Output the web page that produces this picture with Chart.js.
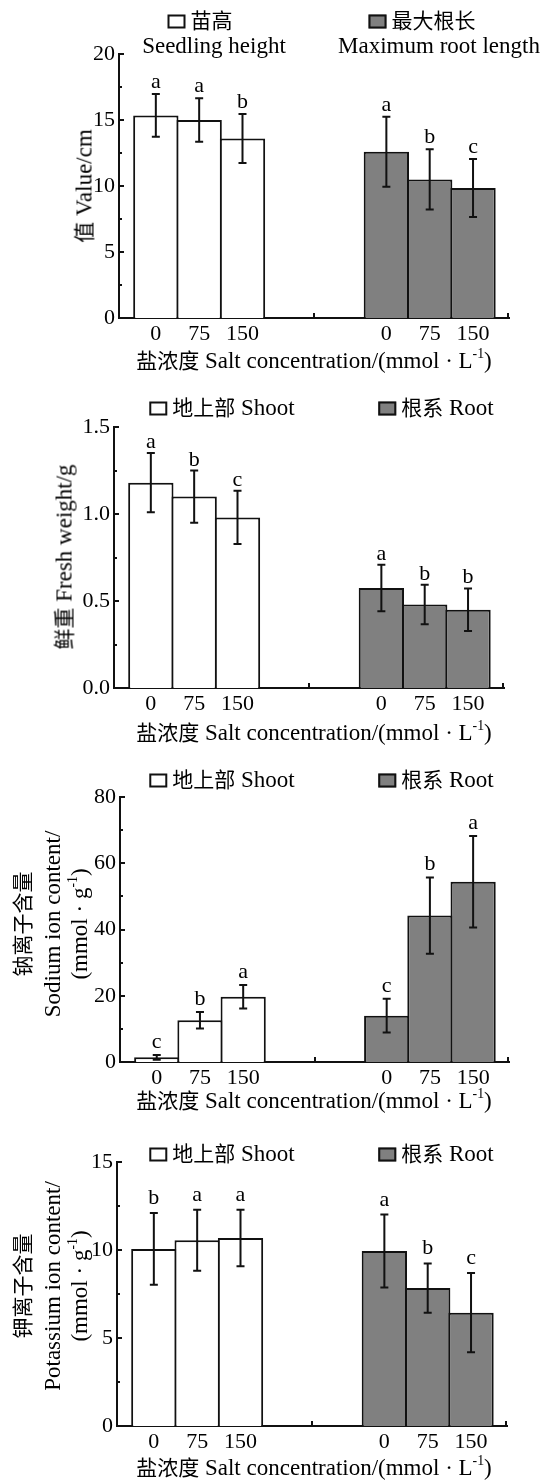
<!DOCTYPE html>
<html lang="zh">
<head>
<meta charset="utf-8">
<title>盐胁迫对幼苗生长及离子含量的影响</title>
<script src="https://cdn.jsdelivr.net/npm/chart.js@4.4.1/dist/chart.umd.min.js"></script>
<style>
  body { margin: 0; background: #fff; }
  #figure { position: relative; width: 545px; height: 1480px; overflow: hidden; }
  #figure canvas { position: absolute; left: 0; }
  .txt {
    position: absolute;
    transform: translate(-50%, -50%);
    white-space: nowrap;
    font: 23px 'Liberation Serif', 'Times New Roman', serif;
    line-height: 1;
    color: #000;
  }
  .rot { transform: translate(-50%, -50%) rotate(-90deg); }
  .zh { font-family: 'Noto Sans CJK SC', sans-serif; font-size: 21px; }
  .box {
    display: inline-block;
    width: 14px;
    height: 10px;
    border: 2px solid #111;
    margin-right: 5px;
    vertical-align: -1px;
  }
  .box.white { background: #fff; }
  .box.gray { background: #808080; }
  sup { font-size: 0.6em; vertical-align: 0.7em; line-height: 0; }
</style>
</head>
<body>
<div id="figure">
  <canvas id="chartHeight" width="545" height="375" style="top:0px"></canvas>
  <canvas id="chartWeight" width="545" height="375" style="top:375px"></canvas>
  <canvas id="chartSodium" width="545" height="370" style="top:750px"></canvas>
  <canvas id="chartPotassium" width="545" height="360" style="top:1120px"></canvas>

  <!-- panel 1 -->
  <div class="txt" style="left:200px;top:20px"><span class="box white"></span><span class="zh">苗高</span></div>
  <div class="txt" style="left:214px;top:45px">Seedling height</div>
  <div class="txt" style="left:422px;top:20px"><span class="box gray"></span><span class="zh">最大根长</span></div>
  <div class="txt" style="left:439px;top:45px">Maximum root length</div>
  <div class="txt rot" style="left:84px;top:186px"><span class="zh">值</span> Value/cm</div>
  <div class="txt" style="left:314px;top:360px"><span class="zh">盐浓度</span> Salt concentration/(mmol · L<sup>-1</sup>)</div>

  <!-- panel 2 -->
  <div class="txt" style="left:222px;top:407px"><span class="box white"></span><span class="zh">地上部</span> Shoot</div>
  <div class="txt" style="left:436px;top:407px"><span class="box gray"></span><span class="zh">根系</span> Root</div>
  <div class="txt rot" style="left:64px;top:557px"><span class="zh">鲜重</span> Fresh weight/g</div>
  <div class="txt" style="left:314px;top:732px"><span class="zh">盐浓度</span> Salt concentration/(mmol · L<sup>-1</sup>)</div>

  <!-- panel 3 -->
  <div class="txt" style="left:222px;top:779px"><span class="box white"></span><span class="zh">地上部</span> Shoot</div>
  <div class="txt" style="left:436px;top:779px"><span class="box gray"></span><span class="zh">根系</span> Root</div>
  <div class="txt rot" style="left:22px;top:924px"><span class="zh">钠离子含量</span></div>
  <div class="txt rot" style="left:52px;top:924px">Sodium ion content/</div>
  <div class="txt rot" style="left:79px;top:924px">(mmol · g<sup>-1</sup>)</div>
  <div class="txt" style="left:314px;top:1100px"><span class="zh">盐浓度</span> Salt concentration/(mmol · L<sup>-1</sup>)</div>

  <!-- panel 4 -->
  <div class="txt" style="left:222px;top:1153px"><span class="box white"></span><span class="zh">地上部</span> Shoot</div>
  <div class="txt" style="left:436px;top:1153px"><span class="box gray"></span><span class="zh">根系</span> Root</div>
  <div class="txt rot" style="left:22px;top:1286px"><span class="zh">钾离子含量</span></div>
  <div class="txt rot" style="left:52px;top:1286px">Potassium ion content/</div>
  <div class="txt rot" style="left:79px;top:1286px">(mmol · g<sup>-1</sup>)</div>
  <div class="txt" style="left:314px;top:1467px"><span class="zh">盐浓度</span> Salt concentration/(mmol · L<sup>-1</sup>)</div>
</div>

<script>
// Salt concentration tick labels (mmol/L)
const concLabels = ['0', '75', '150'];

// Seedling height / maximum root length (cm)
const heightShoot = [15.35, 15.0, 13.6];
const heightShootErr = [1.62, 1.65, 1.85];
const heightShootSig = ['a', 'a', 'b'];
const heightRoot = [12.6, 10.5, 9.85];
const heightRootErr = [2.65, 2.28, 2.2];
const heightRootSig = ['a', 'b', 'c'];

// Fresh weight (g)
const weightShoot = [1.18, 1.10, 0.98];
const weightShootErr = [0.17, 0.15, 0.153];
const weightShootSig = ['a', 'b', 'c'];
const weightRoot = [0.575, 0.48, 0.45];
const weightRootErr = [0.134, 0.114, 0.122];
const weightRootSig = ['a', 'b', 'b'];

// Na+ content (mmol/g)
const sodiumShoot = [1.4, 12.6, 19.7];
const sodiumShootErr = [0.75, 2.5, 3.55];
const sodiumShootSig = ['c', 'b', 'a'];
const sodiumRoot = [14.0, 44.2, 54.4];
const sodiumRootErr = [5.1, 11.5, 13.8];
const sodiumRootSig = ['c', 'b', 'a'];

// K+ content (mmol/g)
const potassiumShoot = [10.06, 10.55, 10.68];
const potassiumShootErr = [2.04, 1.73, 1.6];
const potassiumShootSig = ['b', 'a', 'a'];
const potassiumRoot = [9.94, 7.84, 6.44];
const potassiumRootErr = [2.07, 1.4, 2.25];
const potassiumRootSig = ['a', 'b', 'c'];

// x axis runs 0..9 bar widths; shoot group then root group
const xMax = 9;
const groupStart = [0.35, 5.67];
const midTick = 4.5;

const serif = "'Liberation Serif', 'Times New Roman', serif";
const ink = '#111';

const panels = [
    { id: 'chartHeight', top: 0, height: 375, area: { left: 119, right: 509, top: 54, bottom: 318 },
      yMax: 20, yStep: 5, yMinor: 2.5, decimals: 0, labelGap: 6,
      shoot: [heightShoot, heightShootErr, heightShootSig], root: [heightRoot, heightRootErr, heightRootSig] },
    { id: 'chartWeight', top: 375, height: 375, area: { left: 114, right: 504, top: 427, bottom: 688 },
      yMax: 1.5, yStep: 0.5, yMinor: 0.25, decimals: 1, labelGap: 5,
      shoot: [weightShoot, weightShootErr, weightShootSig], root: [weightRoot, weightRootErr, weightRootSig] },
    { id: 'chartSodium', top: 750, height: 370, area: { left: 120, right: 509, top: 797, bottom: 1062 },
      yMax: 80, yStep: 20, yMinor: 10, decimals: 0, labelGap: 7,
      shoot: [sodiumShoot, sodiumShootErr, sodiumShootSig], root: [sodiumRoot, sodiumRootErr, sodiumRootSig] },
    { id: 'chartPotassium', top: 1120, height: 360, area: { left: 117, right: 507, top: 1162, bottom: 1426 },
      yMax: 15, yStep: 5, yMinor: 2.5, decimals: 0, labelGap: 9,
      shoot: [potassiumShoot, potassiumShootErr, potassiumShootSig], root: [potassiumRoot, potassiumRootErr, potassiumRootSig] },
];

function toPoints(start, values) {
    return values.map((v, i) => ({ x: start + 0.5 + i, y: v }));
}

// error bars and significance letters, placed with the chart's own scales
const errorBarPlugin = {
    id: 'errorBars',
    afterDatasetsDraw(chart, args, opts) {
        const ctx = chart.ctx;
        const yScale = chart.scales.y;
        ctx.save();
        ctx.strokeStyle = ink;
        ctx.fillStyle = '#000';
        ctx.lineWidth = 2;
        ctx.font = '22px ' + serif;
        ctx.textAlign = 'center';
        ctx.textBaseline = 'alphabetic';
        chart.data.datasets.forEach((ds, di) => {
            chart.getDatasetMeta(di).data.forEach((bar, i) => {
                const v = ds.data[i].y;
                const e = ds.errors[i];
                const top = yScale.getPixelForValue(v + e);
                const bottom = yScale.getPixelForValue(Math.max(v - e, 0));
                ctx.beginPath();
                ctx.moveTo(bar.x, top);
                ctx.lineTo(bar.x, bottom);
                ctx.moveTo(bar.x - 4, top);
                ctx.lineTo(bar.x + 4, top);
                ctx.moveTo(bar.x - 4, bottom);
                ctx.lineTo(bar.x + 4, bottom);
                ctx.stroke();
                ctx.fillText(ds.letters[i], bar.x, top - opts.gap);
            });
        });
        ctx.restore();
    }
};

// short inward tick marks on both axes
const inwardTicksPlugin = {
    id: 'inwardTicks',
    afterDraw(chart, args, opts) {
        const ctx = chart.ctx;
        const { x, y } = chart.scales;
        const area = chart.chartArea;
        ctx.save();
        ctx.strokeStyle = ink;
        ctx.lineWidth = 2;
        ctx.beginPath();
        const n = Math.round(y.max / opts.minor);
        for (let k = 0; k <= n; k++) {
            const py = Math.round(y.getPixelForValue(k * opts.minor));
            const len = k % 2 === 0 ? 5 : 3;
            ctx.moveTo(area.left, py);
            ctx.lineTo(area.left + len, py);
        }
        [midTick, xMax].forEach((v) => {
            const px = Math.round(x.getPixelForValue(v)) - (v === xMax ? 1 : 0);
            ctx.moveTo(px, area.bottom);
            ctx.lineTo(px, area.bottom - 5);
        });
        ctx.stroke();
        ctx.restore();
    }
};

function makePanel(p) {
    const ctx = document.getElementById(p.id).getContext('2d');
    const centers = groupStart.flatMap((s) => concLabels.map((_, i) => s + 0.5 + i));
    const barStyle = {
        borderColor: ink,
        borderWidth: 2,
        borderSkipped: 'bottom',
        grouped: false,
        categoryPercentage: 1,
        barPercentage: 1.046,
    };

    new Chart(ctx, {
        type: 'bar',
        data: {
            datasets: [
                Object.assign({ label: 'Shoot', data: toPoints(groupStart[0], p.shoot[0]),
                    errors: p.shoot[1], letters: p.shoot[2], backgroundColor: '#ffffff' }, barStyle),
                Object.assign({ label: 'Root', data: toPoints(groupStart[1], p.root[0]),
                    errors: p.root[1], letters: p.root[2], backgroundColor: '#808080' }, barStyle),
            ],
        },
        options: {
            responsive: false,
            animation: false,
            layout: {
                padding: { left: 0, top: p.area.top - p.top, right: 545 - p.area.right, bottom: 0 },
            },
            plugins: {
                legend: { display: false },
                tooltip: { enabled: false },
                errorBars: { gap: p.labelGap },
                inwardTicks: { minor: p.yMinor },
            },
            scales: {
                x: {
                    type: 'linear',
                    min: 0,
                    max: xMax,
                    offset: false,
                    z: 1,
                    grid: { display: false, drawTicks: false },
                    border: { color: ink, width: 2 },
                    afterBuildTicks: (scale) => {
                        scale.ticks = centers.map((v) => ({ value: v }));
                    },
                    afterFit: (scale) => {
                        scale.height = p.top + p.height - p.area.bottom;
                    },
                    ticks: {
                        autoSkip: false,
                        maxRotation: 0,
                        padding: 3,
                        color: '#000',
                        font: { family: serif, size: 22 },
                        callback: (value, index) => concLabels[index % concLabels.length],
                    },
                },
                y: {
                    min: 0,
                    max: p.yMax,
                    z: 1,
                    grid: { display: false, drawTicks: false },
                    border: { color: ink, width: 2 },
                    afterFit: (scale) => {
                        scale.width = p.area.left;
                    },
                    ticks: {
                        stepSize: p.yStep,
                        padding: 4,
                        color: '#000',
                        font: { family: serif, size: 22 },
                        callback: (value) => value.toFixed(p.decimals),
                    },
                },
            },
        },
        plugins: [errorBarPlugin, inwardTicksPlugin],
    });
}

panels.forEach(makePanel);
</script>
</body>
</html>
